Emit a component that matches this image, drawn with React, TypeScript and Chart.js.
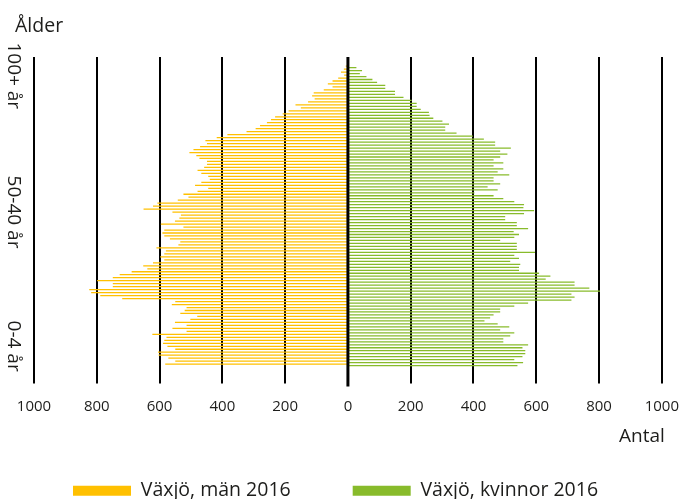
import React, { useEffect, useRef } from 'react';
import { Chart, registerables } from 'chart.js';

Chart.register(...registerables);

// Ages, top of the pyramid first (100+ down to 0)
const ages = [
  100, 99, 98, 97, 96, 95, 94, 93, 92, 91,
  90, 89, 88, 87, 86, 85, 84, 83, 82, 81,
  80, 79, 78, 77, 76, 75, 74, 73, 72, 71,
  70, 69, 68, 67, 66, 65, 64, 63, 62, 61,
  60, 59, 58, 57, 56, 55, 54, 53, 52, 51,
  50, 49, 48, 47, 46, 45, 44, 43, 42, 41,
  40, 39, 38, 37, 36, 35, 34, 33, 32, 31,
  30, 29, 28, 27, 26, 25, 24, 23, 22, 21,
  20, 19, 18, 17, 16, 15, 14, 13, 12, 11,
  10, 9, 8, 7, 6, 5, 4, 3, 2, 1,
  0,
];

const men2016 = [
  7, 13, 22, 12, 31, 49, 64, 49, 77, 109,
  114, 106, 127, 167, 150, 189, 208, 232, 245, 258,
  280, 294, 323, 384, 418, 454, 449, 471, 492, 505,
  483, 473, 449, 449, 458, 479, 467, 445, 440, 467,
  487, 445, 479, 524, 508, 542, 607, 621, 651, 559,
  532, 537, 551, 596, 524, 585, 591, 585, 567, 534,
  540, 610, 580, 585, 598, 585, 621, 652, 639, 689,
  727, 749, 799, 749, 749, 824, 818, 789, 719, 550,
  561, 514, 520, 534, 480, 502, 551, 514, 559, 514,
  623, 578, 585, 589, 575, 550, 605, 603, 572, 550,
  582,
];

const women2016 = [
  27, 45, 38, 59, 78, 93, 119, 119, 150, 150,
  177, 203, 219, 219, 232, 258, 260, 272, 301, 322,
  310, 310, 346, 398, 433, 469, 469, 519, 485, 508,
  485, 464, 495, 464, 495, 477, 514, 464, 464, 485,
  445, 477, 403, 464, 495, 530, 561, 559, 593, 561,
  501, 501, 538, 538, 574, 528, 545, 530, 485, 538,
  538, 538, 596, 530, 545, 517, 549, 545, 545, 609,
  645, 630, 722, 722, 769, 803, 712, 722, 712, 574,
  530, 485, 485, 464, 453, 435, 477, 514, 485, 530,
  517, 495, 495, 574, 556, 565, 565, 556, 530, 558,
  540,
];

const seriesNames = ['Växjö, män 2016', 'Växjö, kvinnor 2016'];
const ageGroupLabels = ['100+ år', '50-40 år', '0-4 år'];
const ageGroupAnchors = [97, 51.3, 6.3];
const yTitle = 'Ålder';
const xTitle = 'Antal';

const YELLOW = '#FFC000';
const GREEN = '#88BB2B';
const TEXT = '#1d1d1b';
const SANS = '"Open Sans", "Noto Sans", sans-serif';

const overlay = {
  id: 'overlay',
  afterDatasetsDraw(chart: any) {
    const { ctx, chartArea, scales } = chart;
    const x0 = scales.x.getPixelForValue(0);
    ctx.save();
    ctx.strokeStyle = '#000';
    ctx.lineWidth = 3;
    ctx.beginPath();
    ctx.moveTo(x0, chartArea.top);
    ctx.lineTo(x0, chartArea.bottom + 7);
    ctx.stroke();
    ctx.restore();
  },
  afterDraw(chart: any) {
    const { ctx, scales, chartArea } = chart;
    ctx.save();
    ctx.fillStyle = TEXT;
    ctx.font = `19.5px ${SANS}`;
    ctx.textAlign = 'left';
    ctx.textBaseline = 'alphabetic';
    ctx.fillText(yTitle, 15, 32);
    ctx.font = `19px ${SANS}`;
    ctx.textAlign = 'right';
    ctx.fillText(xTitle, chartArea.right + 3, 442);
    ctx.font = `19px ${SANS}`;
    ctx.textAlign = 'center';
    ageGroupLabels.forEach((lab, i) => {
      const y = scales.y.getPixelForValue(ageGroupAnchors[i]);
      ctx.save();
      ctx.translate(8, y);
      ctx.rotate(Math.PI / 2);
      ctx.fillText(lab, 0, 0);
      ctx.restore();
    });
    ctx.restore();
  },
};

export default function App() {
  const ref = useRef<HTMLCanvasElement>(null);
  useEffect(() => {
    document.body.style.margin = '0';
    const canvas = ref.current;
    if (!canvas) return;
    const chart = new Chart(canvas, {
      type: 'bar',
      data: {
        datasets: [
          {
            label: seriesNames[0],
            data: ages.map((a, i) => ({ x: -men2016[i], y: a })),
            backgroundColor: YELLOW,
            borderWidth: 0,
            barPercentage: 0.85,
            categoryPercentage: 1,
          },
          {
            label: seriesNames[1],
            data: ages.map((a, i) => ({ x: women2016[i], y: a })),
            backgroundColor: GREEN,
            borderWidth: 0,
            barPercentage: 0.85,
            categoryPercentage: 1,
          },
        ],
      },
      options: {
        indexAxis: 'y',
        responsive: false,
        animation: false,
        layout: { padding: { top: 57, left: 11, right: 24, bottom: -11.4 } },
        scales: {
          x: {
            type: 'linear',
            stacked: true,
            min: -1000,
            max: 1000,
            ticks: {
              stepSize: 200,
              padding: 14,
              color: TEXT,
              font: { family: SANS, size: 15 },
              callback: (v: any) => String(Math.abs(Number(v))),
            },
            grid: { color: '#000', lineWidth: 2, tickLength: 4, drawTicks: true },
            border: { display: false },
          },
          y: {
            type: 'linear',
            offset: false,
            bounds: 'data',
            grace: 0,
            min: -4.9,
            max: 103.3,
            ticks: { display: false },
            grid: { display: false, offset: false },
            border: { display: false },
            afterFit: (s: any) => { s.width = 23; },
          },
        },
        plugins: {
          legend: {
            position: 'bottom',
            align: 'start',
            title: { display: true, text: '', font: { size: 1 }, padding: { top: -5.9, bottom: -5.9 } },
            labels: {
              boxWidth: 58,
              boxHeight: 10,
              padding: 62,
              color: TEXT,
              font: { family: SANS, size: 19.5 },
            },
          },
          tooltip: { enabled: false },
        },
      },
      plugins: [overlay],
    });
    return () => chart.destroy();
  }, []);
  return <canvas ref={ref} width={693} height={499} style={{ display: 'block' }} />;
}
